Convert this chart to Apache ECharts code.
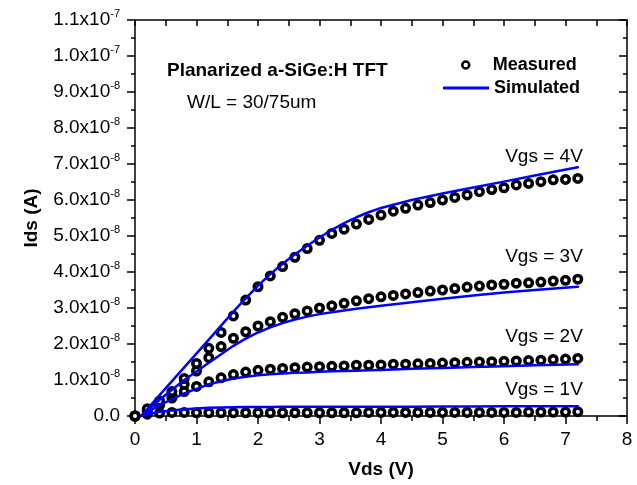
<!DOCTYPE html>
<html><head><meta charset="utf-8">
<script src="https://cdn.jsdelivr.net/npm/echarts@6/dist/echarts.min.js"></script>
<style>html,body{margin:0;padding:0;background:#fff}#c{width:637px;height:485px}</style>
</head><body><div id="c"></div>
<script>
// Drain voltage (V) of the measured points
const VDS_MEAS = [0, 0.2, 0.4, 0.6, 0.8, 1.0, 1.2, 1.4, 1.6, 1.8, 2.0, 2.2, 2.4, 2.6, 2.8, 3.0, 3.2, 3.4, 3.6, 3.8,
  4.0, 4.2, 4.4, 4.6, 4.8, 5.0, 5.2, 5.4, 5.6, 5.8, 6.0, 6.2, 6.4, 6.6, 6.8, 7.0, 7.2];
// Measured Ids, in units of 1e-8 A
const IDS_MEAS_1V = [0, 0.05, 0.08, 0.1, 0.1, 0.09, 0.09, 0.09, 0.09, 0.09, 0.09, 0.09, 0.09, 0.09, 0.09, 0.09, 0.09, 0.09, 0.09, 0.1,
  0.1, 0.1, 0.1, 0.1, 0.1, 0.1, 0.1, 0.1, 0.1, 0.1, 0.1, 0.1, 0.11, 0.11, 0.11, 0.11, 0.12];
const IDS_MEAS_2V = [0, 0.12, 0.3, 0.5, 0.68, 0.82, 0.95, 1.06, 1.15, 1.22, 1.27, 1.3, 1.32, 1.34, 1.36, 1.37, 1.38, 1.39, 1.41, 1.41,
  1.42, 1.44, 1.44, 1.45, 1.46, 1.47, 1.48, 1.49, 1.5, 1.51, 1.52, 1.53, 1.54, 1.55, 1.57, 1.58, 1.6];
const IDS_MEAS_3V = [0, 0.15, 0.35, 0.6, 0.88, 1.25, 1.62, 1.93, 2.16, 2.34, 2.5, 2.62, 2.74, 2.84, 2.92, 3.0, 3.06, 3.13, 3.2, 3.26,
  3.31, 3.35, 3.39, 3.43, 3.47, 3.5, 3.54, 3.58, 3.61, 3.64, 3.66, 3.69, 3.7, 3.72, 3.75, 3.77, 3.8];
const IDS_MEAS_4V = [0, 0.2, 0.42, 0.68, 1.04, 1.46, 1.88, 2.32, 2.78, 3.22, 3.59, 3.89, 4.15, 4.41, 4.65, 4.88, 5.07, 5.19, 5.33, 5.46,
  5.58, 5.69, 5.77, 5.86, 5.93, 6.0, 6.07, 6.14, 6.23, 6.29, 6.34, 6.42, 6.46, 6.51, 6.56, 6.57, 6.6];
// Simulated curves (Vds in V, Ids in units of 1e-8 A)
const VDS_SIM = [0.1, 0.4, 0.8, 1.2, 1.6, 1.8, 2.0, 2.2, 2.4, 2.6, 2.8, 3.0, 3.2, 3.4, 3.6, 3.8, 4.0, 4.5, 5.0, 5.5, 6.0, 6.5, 7.2];
const IDS_SIM_1V = [0, 0.12, 0.19, 0.23, 0.245, 0.25, 0.25, 0.25, 0.255, 0.255, 0.26, 0.26, 0.26, 0.26, 0.26, 0.26, 0.26, 0.26, 0.265, 0.265, 0.27, 0.27, 0.27];
const IDS_SIM_2V = [0, 0.3, 0.63, 0.88, 1.04, 1.09, 1.13, 1.16, 1.18, 1.2, 1.21, 1.23, 1.24, 1.25, 1.26, 1.27, 1.28, 1.31, 1.33, 1.36, 1.38, 1.41, 1.44];
const IDS_SIM_3V = [0, 0.45, 1.0, 1.48, 1.95, 2.15, 2.32, 2.46, 2.58, 2.68, 2.76, 2.83, 2.88, 2.93, 2.98, 3.02, 3.06, 3.16, 3.26, 3.35, 3.43, 3.5, 3.59];
const IDS_SIM_4V = [0, 0.58, 1.35, 2.12, 2.9, 3.27, 3.62, 3.94, 4.23, 4.49, 4.73, 4.96, 5.17, 5.36, 5.52, 5.66, 5.78, 6.0, 6.18, 6.35, 6.51, 6.68, 6.91];

const VGS_LABELS = ['Vgs = 1V', 'Vgs = 2V', 'Vgs = 3V', 'Vgs = 4V'];
const Y_TICK_LABELS = ['0.0', '1.0x10^-8', '2.0x10^-8', '3.0x10^-8', '4.0x10^-8', '5.0x10^-8', '6.0x10^-8',
  '7.0x10^-8', '8.0x10^-8', '9.0x10^-8', '1.0x10^-7', '1.1x10^-7'];
const X_TICK_LABELS = ['0', '1', '2', '3', '4', '5', '6', '7', '8'];
const TITLE_TEXT = 'Planarized a-SiGe:H TFT';
const SUB_TEXT = 'W/L = 30/75um';

const FONT = '"Liberation Sans", Arial, Helvetica, sans-serif';
const MEAS = [IDS_MEAS_1V, IDS_MEAS_2V, IDS_MEAS_3V, IDS_MEAS_4V];
const SIM = [IDS_SIM_1V, IDS_SIM_2V, IDS_SIM_3V, IDS_SIM_4V];

const chart = echarts.init(document.getElementById('c'), null, { renderer: 'canvas' });

const blk = { color: '#000', width: 1.5 };
function xAxisCfg(top) {
  return {
    type: 'value', min: 0, max: 8, interval: 1, position: top ? 'top' : 'bottom',
    axisLine: { show: true, onZero: false, lineStyle: blk },
    axisTick: { show: true, inside: top, length: top ? 6 : 8, lineStyle: blk },
    minorTick: { show: true, splitNumber: 2, length: top ? 6 : 5, lineStyle: blk },
    splitLine: { show: false }, minorSplitLine: { show: false },
    axisLabel: top ? { show: false } : {
      margin: 14, fontSize: 19, color: '#000', fontFamily: FONT,
      formatter: v => X_TICK_LABELS[Math.round(v)]
    },
    name: top ? '' : 'Vds (V)', nameLocation: 'middle', nameGap: 44,
    nameTextStyle: { fontWeight: 'bold', fontSize: 19, color: '#000', fontFamily: FONT }
  };
}
function yAxisCfg(right) {
  return {
    type: 'value', min: 0, max: 11, interval: 1, position: right ? 'right' : 'left',
    axisLine: { show: true, onZero: false, lineStyle: blk },
    axisTick: { show: true, inside: right, length: 8, lineStyle: blk },
    minorTick: { show: true, splitNumber: 2, length: 4, lineStyle: blk },
    splitLine: { show: false }, minorSplitLine: { show: false },
    axisLabel: right ? { show: false } : {
      margin: 15, color: '#000', fontFamily: FONT,
      formatter: v => {
        const s = Y_TICK_LABELS[Math.round(v)];
        const p = s.split('^');
        return p.length > 1 ? '{m|' + p[0] + '}{s|' + p[1] + '}' : '{m|' + s + '}';
      },
      rich: {
        m: { fontSize: 19, lineHeight: 24, color: '#000', fontFamily: FONT },
        s: { fontSize: 11, lineHeight: 12, verticalAlign: 'top', color: '#000', fontFamily: FONT }
      }
    },
    name: right ? '' : 'Ids (A)', nameLocation: 'middle', nameGap: 94, nameRotate: 90,
    nameTextStyle: { fontWeight: 'bold', fontSize: 19, color: '#000', fontFamily: FONT }
  };
}

const series = [];
MEAS.forEach((arr) => {
  series.push({
    name: 'Measured', type: 'scatter', xAxisIndex: 0, yAxisIndex: 0,
    data: VDS_MEAS.map((x, j) => [x, arr[j]]),
    symbol: 'circle', symbolSize: 7.5, clip: false, z: 2,
    itemStyle: { color: '#fff', borderColor: '#000', borderWidth: 3.5, opacity: 1 }
  });
});
SIM.forEach((arr) => {
  series.push({
    name: 'Simulated', type: 'line', xAxisIndex: 0, yAxisIndex: 0,
    data: VDS_SIM.map((x, j) => [x, arr[j]]),
    symbol: 'none', showSymbol: false, smooth: false, z: 3,
    lineStyle: { color: '#0000ff', width: 2.5, join: 'round', cap: 'round' }, itemStyle: { color: '#0000ff' }
  });
});

const legendText = { fontWeight: 'bold', fontSize: 18, color: '#000', fontFamily: FONT };
chart.setOption({
  animation: false,
  backgroundColor: '#fff',
  grid: { left: 135, right: 10, top: 20, bottom: 69, show: false },
  xAxis: [xAxisCfg(false), xAxisCfg(true)],
  yAxis: [yAxisCfg(false), yAxisCfg(true)],
  legend: [
    { data: ['Measured'], left: 461, top: 56, padding: 0, itemWidth: 44, itemHeight: 7, itemGap: 0,
      selectedMode: false, textStyle: legendText,
      itemStyle: { color: '#fff', borderColor: '#000', borderWidth: 2.5 } },
    { data: [{ name: 'Simulated', icon: 'rect' }], left: 443, top: 79, padding: 0, itemWidth: 46, itemHeight: 3, itemGap: 0,
      selectedMode: false, textStyle: legendText, itemStyle: { color: '#0000ff', borderWidth: 0 } }
  ],
  series: series
});

// Annotations: title texts and Vgs labels anchored to the last measured point of each curve
const graphics = [
  { type: 'text', left: 167, top: 61, style: { text: TITLE_TEXT, font: 'bold 19px ' + FONT, fill: '#000' } },
  { type: 'text', left: 187, top: 93, style: { text: SUB_TEXT, font: '19px ' + FONT, fill: '#000' } }
];
MEAS.forEach((arr, i) => {
  const last = VDS_MEAS.length - 1;
  const p = chart.convertToPixel({ gridIndex: 0 }, [VDS_MEAS[last], arr[last]]);
  graphics.push({
    type: 'text', x: p[0] + 5, y: p[1] - 22,
    style: { text: VGS_LABELS[i], font: '19px ' + FONT, fill: '#000', align: 'right', verticalAlign: 'middle' }
  });
});
chart.setOption({ graphic: graphics });
</script></body></html>
